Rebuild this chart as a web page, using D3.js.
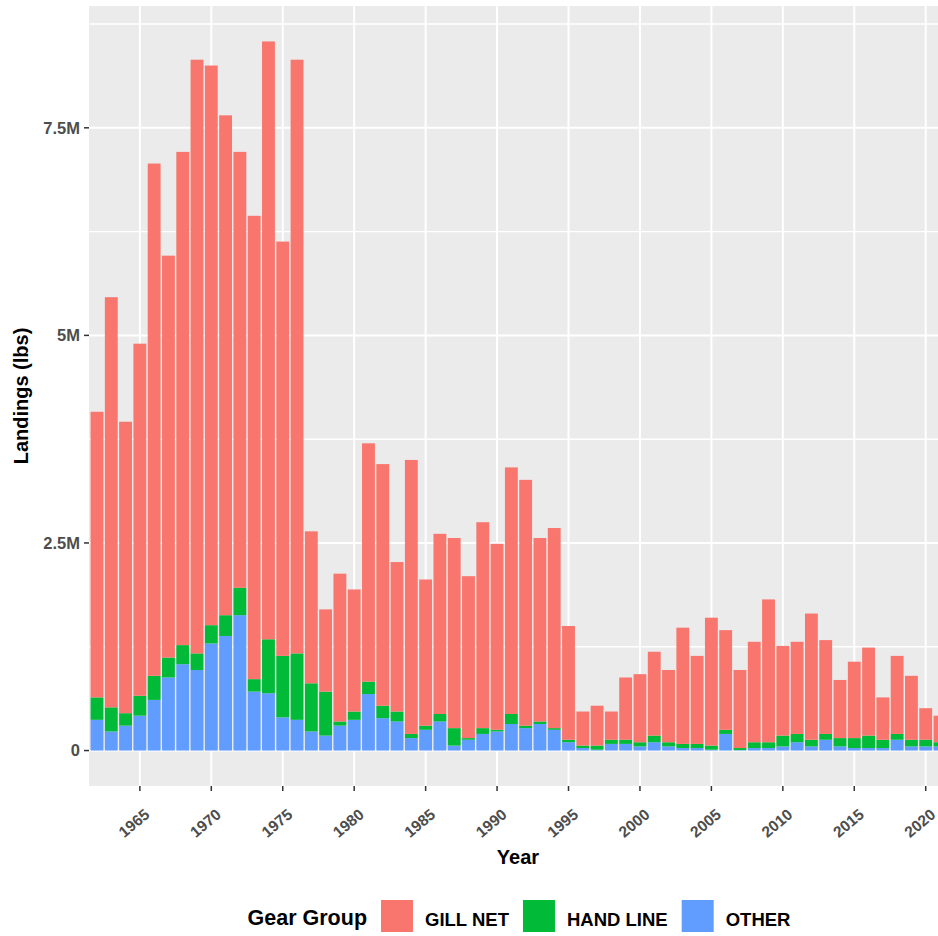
<!DOCTYPE html>
<html>
<head>
<meta charset="utf-8">
<script src="https://cdn.jsdelivr.net/npm/d3@7"></script>
<style>
  body { margin: 0; background: #fff; }
  text { font-family: "Liberation Sans", Arial, sans-serif; }
</style>
</head>
<body>
<div id="chart"></div>
<script>
// landings in millions of lbs
var years = [1962, 1963, 1964, 1965, 1966, 1967, 1968, 1969, 1970, 1971,
             1972, 1973, 1974, 1975, 1976, 1977, 1978, 1979, 1980, 1981,
             1982, 1983, 1984, 1985, 1986, 1987, 1988, 1989, 1990, 1991,
             1992, 1993, 1994, 1995, 1996, 1997, 1998, 1999, 2000, 2001,
             2002, 2003, 2004, 2005, 2006, 2007, 2008, 2009, 2010, 2011,
             2012, 2013, 2014, 2015, 2016, 2017, 2018, 2019, 2020, 2021];

var gillNet = [3.44, 4.94, 3.51, 4.24, 6.17, 4.84, 5.94, 7.15, 6.74, 6.02,
               5.25, 5.58, 7.20, 4.99, 7.15, 1.83, 0.99, 1.78, 1.47, 2.87,
               2.91, 1.80, 3.30, 1.76, 2.17, 2.29, 1.95, 2.48, 2.24, 2.97,
               2.96, 2.21, 2.41, 1.37, 0.41, 0.48, 0.34, 0.75, 0.82, 1.01,
               0.87, 1.40, 1.06, 1.54, 1.20, 0.94, 1.21, 1.72, 1.08, 1.11,
               1.52, 1.13, 0.70, 0.92, 1.06, 0.51, 0.94, 0.77, 0.38, 0.32];

var handLine = [0.27, 0.29, 0.15, 0.24, 0.29, 0.24, 0.23, 0.20, 0.22, 0.25,
                0.33, 0.15, 0.65, 0.74, 0.80, 0.58, 0.53, 0.05, 0.10, 0.15,
                0.15, 0.12, 0.05, 0.05, 0.09, 0.21, 0.02, 0.07, 0.02, 0.12,
                0.03, 0.03, 0.02, 0.03, 0.03, 0.05, 0.05, 0.05, 0.05, 0.08,
                0.05, 0.05, 0.05, 0.05, 0.05, 0.025, 0.07, 0.07, 0.13, 0.10,
                0.08, 0.07, 0.10, 0.12, 0.15, 0.10, 0.07, 0.08, 0.08, 0.05];

var other = [0.37, 0.23, 0.30, 0.42, 0.61, 0.88, 1.04, 0.97, 1.29, 1.38,
             1.63, 0.71, 0.69, 0.40, 0.37, 0.23, 0.18, 0.30, 0.37, 0.68,
             0.39, 0.35, 0.15, 0.25, 0.35, 0.06, 0.13, 0.20, 0.23, 0.32,
             0.27, 0.32, 0.25, 0.10, 0.03, 0.01, 0.08, 0.08, 0.05, 0.10,
             0.05, 0.03, 0.03, 0.01, 0.20, 0.005, 0.03, 0.03, 0.05, 0.10,
             0.05, 0.13, 0.05, 0.03, 0.03, 0.03, 0.13, 0.05, 0.05, 0.05];

var groups = ["GILL NET", "HAND LINE", "OTHER"];
var colors = ["#F8766D", "#00BA38", "#619CFF"];

var xTicks = [1965, 1970, 1975, 1980, 1985, 1990, 1995, 2000, 2005, 2010, 2015, 2020];
var yTicks = [0, 2.5, 5, 7.5];
var yTickLabels = ["0", "2.5M", "5M", "7.5M"];
var yMinor = [1.25, 3.75, 6.25, 8.75];

var width = 938,
    height = 936;

var panel = {left: 89, right: 938, top: 6, bottom: 786};

var svg = d3.select("#chart")
    .append("svg")
    .attr("width", width)
    .attr("height", height);

// one row per year, stacked other -> hand line -> gill net
var rows = years.map(function(y, i) {
    return {year: y, "OTHER": other[i], "HAND LINE": handLine[i], "GILL NET": gillNet[i]};
});
var stack = d3.stack().keys(["OTHER", "HAND LINE", "GILL NET"])(rows);

var maxTotal = d3.max(rows, function(d) { return d["OTHER"] + d["HAND LINE"] + d["GILL NET"]; });
var pad = maxTotal * 0.05;

var x = d3.scaleLinear()
    .domain([1961.44, 2020.86])
    .range([panel.left, panel.right]);

var y = d3.scaleLinear()
    .domain([-pad, maxTotal + pad])
    .range([panel.bottom, panel.top]);

// panel
svg.append("rect")
    .attr("x", panel.left)
    .attr("y", panel.top)
    .attr("width", panel.right - panel.left)
    .attr("height", panel.bottom - panel.top)
    .style("fill", "#EBEBEB");

svg.append("clipPath")
    .attr("id", "clip")
    .append("rect")
    .attr("x", panel.left)
    .attr("y", panel.top)
    .attr("width", panel.right - panel.left)
    .attr("height", panel.bottom - panel.top);

var grid = svg.append("g").attr("clip-path", "url(#clip)");

grid.selectAll(".yminor")
    .data(yMinor)
    .enter().append("line")
    .attr("x1", panel.left).attr("x2", panel.right)
    .attr("y1", function(d) { return y(d); })
    .attr("y2", function(d) { return y(d); })
    .style("stroke", "#fff")
    .style("stroke-width", 1.4);

grid.selectAll(".ymajor")
    .data(yTicks)
    .enter().append("line")
    .attr("x1", panel.left).attr("x2", panel.right)
    .attr("y1", function(d) { return y(d); })
    .attr("y2", function(d) { return y(d); })
    .style("stroke", "#fff")
    .style("stroke-width", 2);

grid.selectAll(".xmajor")
    .data(xTicks)
    .enter().append("line")
    .attr("y1", panel.top).attr("y2", panel.bottom)
    .attr("x1", function(d) { return x(d); })
    .attr("x2", function(d) { return x(d); })
    .style("stroke", "#fff")
    .style("stroke-width", 2);

// bars
var barW = x(1962.9) - x(1962);
var layerColor = {"GILL NET": colors[0], "HAND LINE": colors[1], "OTHER": colors[2]};

grid.selectAll(".layer")
    .data(stack)
    .enter().append("g")
    .style("fill", function(d) { return layerColor[d.key]; })
    .selectAll("rect")
    .data(function(d) { return d; })
    .enter().append("rect")
    .attr("x", function(d) { return x(d.data.year) - barW / 2; })
    .attr("width", barW)
    .attr("y", function(d) { return y(d[1]); })
    .attr("height", function(d) { return y(d[0]) - y(d[1]); });

// y axis
svg.selectAll(".ytick")
    .data(yTicks)
    .enter().append("line")
    .attr("x1", panel.left - 5).attr("x2", panel.left)
    .attr("y1", function(d) { return y(d); })
    .attr("y2", function(d) { return y(d); })
    .style("stroke", "#333")
    .style("stroke-width", 1.5);

svg.selectAll(".ylabel")
    .data(yTicks)
    .enter().append("text")
    .attr("x", panel.left - 9)
    .attr("y", function(d) { return y(d); })
    .attr("dy", "0.36em")
    .attr("text-anchor", "end")
    .style("font-size", "16.5px")
    .style("font-weight", "bold")
    .style("fill", "#4D4D4D")
    .text(function(d, i) { return yTickLabels[i]; });

// x axis
svg.selectAll(".xtick")
    .data(xTicks)
    .enter().append("line")
    .attr("y1", panel.bottom).attr("y2", panel.bottom + 5)
    .attr("x1", function(d) { return x(d); })
    .attr("x2", function(d) { return x(d); })
    .style("stroke", "#333")
    .style("stroke-width", 1.5);

svg.selectAll(".xlabel")
    .data(xTicks)
    .enter().append("text")
    .attr("transform", function(d) { return "translate(" + (x(d) - 6) + "," + 823 + ") rotate(-40)"; })
    .attr("dy", "0.36em")
    .attr("text-anchor", "middle")
    .style("font-size", "15.5px")
    .style("font-weight", "bold")
    .style("fill", "#4D4D4D")
    .text(function(d) { return d; });

// axis titles
svg.append("text")
    .attr("x", 518)
    .attr("y", 864)
    .attr("text-anchor", "middle")
    .style("font-size", "20px")
    .style("font-weight", "bold")
    .style("fill", "#000")
    .text("Year");

svg.append("text")
    .attr("transform", "translate(28,396) rotate(-90)")
    .attr("text-anchor", "middle")
    .style("font-size", "20px")
    .style("font-weight", "bold")
    .style("fill", "#000")
    .text("Landings (lbs)");

// legend
var legend = svg.append("g");
var lx = 0;

var title = legend.append("text")
    .attr("x", lx)
    .attr("y", 925)
    .style("font-size", "21.5px")
    .style("font-weight", "bold")
    .style("fill", "#000")
    .text("Gear Group");
lx += title.node().getComputedTextLength() + 14;

groups.forEach(function(g, i) {
    legend.append("rect")
        .attr("x", lx)
        .attr("y", 900)
        .attr("width", 32)
        .attr("height", 32)
        .style("fill", colors[i]);
    lx += 32 + 12;
    var t = legend.append("text")
        .attr("x", lx)
        .attr("y", 926)
        .style("font-size", "18.5px")
        .style("font-weight", "bold")
        .style("fill", "#000")
        .text(g);
    lx += t.node().getComputedTextLength() + 14;
});
lx -= 14;

legend.attr("transform", "translate(" + (519 - lx / 2) + ",0)");
</script>
</body>
</html>
